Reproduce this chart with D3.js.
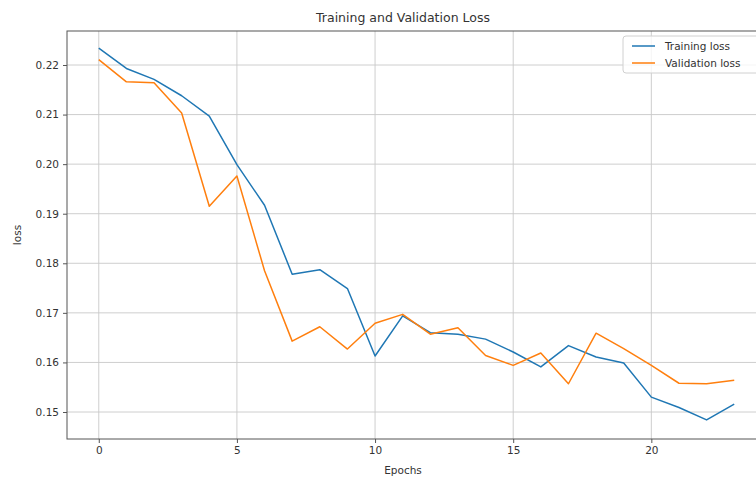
<!DOCTYPE html>
<html>
<head>
<meta charset="utf-8">
<script src="https://cdn.jsdelivr.net/npm/d3@7"></script>
<style>
  body { margin: 0; background: #fff; }
  text { font-family: "DejaVu Sans", sans-serif; fill: #333; }
</style>
</head>
<body>
<svg id="chart" width="756" height="481"></svg>
<script>
// values
var epochs = d3.range(0, 24);
var trainLoss = [0.2234, 0.2193, 0.2171, 0.2138, 0.2097, 0.1999, 0.1917, 0.1778, 0.1787, 0.1749,
                 0.1613, 0.1694, 0.1660, 0.1657, 0.1647, 0.1621, 0.1591, 0.1634, 0.1611, 0.1599,
                 0.1530, 0.1509, 0.1484, 0.1516];
var valLoss = [0.2211, 0.2166, 0.2164, 0.2103, 0.1915, 0.1976, 0.1785, 0.1643, 0.1672, 0.1627,
               0.1679, 0.1697, 0.1657, 0.1670, 0.1614, 0.1594, 0.1619, 0.1557, 0.1659, 0.1628,
               0.1594, 0.1558, 0.1557, 0.1564];
var xTicks = [0, 5, 10, 15, 20];
var yTicks = [0.15, 0.16, 0.17, 0.18, 0.19, 0.20, 0.21, 0.22];
var seriesNames = ["Training loss", "Validation loss"];
var seriesColors = ["#1f77b4", "#ff7f0e"];

var svg = d3.select("#chart");
var pLeft = 67, pRight = 766, pTop = 31, pBottom = 439;

var x = d3.scaleLinear().domain([-1.15, 24.15]).range([pLeft, pRight]);
var y = d3.scaleLinear().domain([0.15, 0.22]).range([412, 65]);

// grid
svg.append("g").selectAll("line").data(xTicks).enter().append("line")
  .attr("x1", function(d) { return x(d); }).attr("x2", function(d) { return x(d); })
  .attr("y1", pTop).attr("y2", pBottom)
  .attr("stroke", "#c8c8c8").attr("stroke-width", 0.9);
svg.append("g").selectAll("line").data(yTicks).enter().append("line")
  .attr("x1", pLeft).attr("x2", pRight)
  .attr("y1", function(d) { return y(d); }).attr("y2", function(d) { return y(d); })
  .attr("stroke", "#c8c8c8").attr("stroke-width", 0.9);

// axes
var xAxis = svg.append("g").attr("transform", "translate(0," + pBottom + ")")
  .call(d3.axisBottom(x).tickValues(xTicks).tickSize(4).tickPadding(4).tickFormat(d3.format("d")));
var yAxis = svg.append("g").attr("transform", "translate(" + pLeft + ",0)")
  .call(d3.axisLeft(y).tickValues(yTicks).tickSize(4).tickPadding(4).tickFormat(d3.format(".2f")));
[xAxis, yAxis].forEach(function(a) {
  a.select(".domain").remove();
  a.selectAll("line").attr("stroke", "#555");
  a.selectAll("text").attr("font-size", 10.5).attr("fill", "#444")
    .attr("font-family", "DejaVu Sans, sans-serif");
});

// frame
svg.append("rect").attr("x", pLeft).attr("y", pTop)
  .attr("width", pRight - pLeft).attr("height", pBottom - pTop)
  .attr("fill", "none").attr("stroke", "#555").attr("stroke-width", 1);

// lines
var line = d3.line()
  .x(function(d, i) { return x(epochs[i]); })
  .y(function(d) { return y(d); });
[trainLoss, valLoss].forEach(function(s, i) {
  svg.append("path").datum(s)
    .attr("d", line)
    .attr("fill", "none")
    .attr("stroke", seriesColors[i])
    .attr("stroke-width", 1.5)
    .attr("stroke-linejoin", "round");
});

// labels
svg.append("text").attr("x", 403).attr("y", 22).attr("text-anchor", "middle")
  .attr("font-size", 12.5).text("Training and Validation Loss");
svg.append("text").attr("x", 403).attr("y", 474).attr("text-anchor", "middle")
  .attr("font-size", 10.5).text("Epochs");
svg.append("text").attr("transform", "translate(21," + ((pTop + pBottom) / 2) + ") rotate(-90)")
  .attr("text-anchor", "middle").attr("font-size", 10.5).text("loss");

// legend
var lg = svg.append("g").attr("transform", "translate(623,36)");
lg.append("rect").attr("width", 150).attr("height", 37).attr("rx", 3)
  .attr("fill", "#fff").attr("fill-opacity", 0.8)
  .attr("stroke", "#d0d0d0").attr("stroke-width", 1);
seriesNames.forEach(function(n, i) {
  var gy = 10 + i * 17;
  lg.append("line").attr("x1", 9).attr("x2", 32).attr("y1", gy).attr("y2", gy)
    .attr("stroke", seriesColors[i]).attr("stroke-width", 1.5);
  lg.append("text").attr("x", 42).attr("y", gy + 4).attr("font-size", 10.5).text(n);
});
</script>
</body>
</html>
